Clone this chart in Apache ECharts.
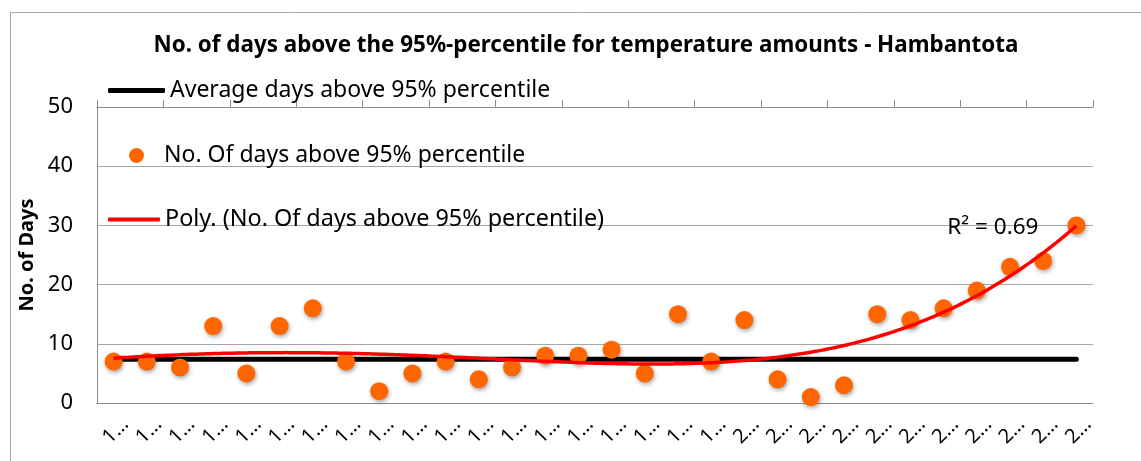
<!DOCTYPE html>
<html><head><meta charset="utf-8">
<script src="https://cdn.jsdelivr.net/npm/echarts@6/dist/echarts.min.js"></script>
<style>html,body{margin:0;padding:0;background:#fff}#chart{width:1141px;height:461px}</style>
</head><body><div id="chart"></div>
<script>
const years = ['1981','1982','1983','1984','1985','1986','1987','1988','1989','1990',
  '1991','1992','1993','1994','1995','1996','1997','1998','1999','2000',
  '2001','2002','2003','2004','2005','2006','2007','2008','2009','2010'];
const daysAbove95 = [7,7,6,13,5,13,16,7,2,5,7,4,6,8,8,9,5,15,7,14,4,1,3,15,14,16,19,23,24,30];
const averageDays = 7.4;
const yTicks = {min: 0, max: 50, interval: 10};
const titleText = 'No. of days above the 95%-percentile for temperature amounts - Hambantota';
const avgName = 'Average days above 95% percentile';
const pointsName = 'No. Of days above 95% percentile';
const trendName = 'Poly. (No. Of days above 95% percentile)';
const r2Text = 'R\u00B2 = 0.69';
const trendOrder = 4;

// least-squares polynomial trendline fitted to the data (as the spreadsheet trendline)
function polyFit(xs, ys, order) {
  const c = 15.5, s = 14.5, n = order + 1;
  const M = Array.from({length: n}, () => Array(n + 1).fill(0));
  xs.forEach((x, k) => {
    const t = (x - c) / s, p = [1];
    for (let i = 1; i < n; i++) p.push(p[i - 1] * t);
    for (let i = 0; i < n; i++) {
      for (let j = 0; j < n; j++) M[i][j] += p[i] * p[j];
      M[i][n] += p[i] * ys[k];
    }
  });
  for (let i = 0; i < n; i++) {
    let piv = i;
    for (let r = i + 1; r < n; r++) if (Math.abs(M[r][i]) > Math.abs(M[piv][i])) piv = r;
    [M[i], M[piv]] = [M[piv], M[i]];
    for (let r = 0; r < n; r++) if (r !== i) {
      const f = M[r][i] / M[i][i];
      for (let cc = i; cc <= n; cc++) M[r][cc] -= f * M[i][cc];
    }
  }
  const coef = M.map((row, i) => row[n] / row[i]);
  return x => { const t = (x - c) / s; let v = 0, p = 1; for (const a of coef) { v += a * p; p *= t; } return v; };
}

const xIdx = years.map((_, i) => i + 1);
const trendFn = polyFit(xIdx, daysAbove95, trendOrder);
const trendData = [];
for (let k = 0; k <= 290; k++) { const x = 1 + k / 10; trendData.push([x, trendFn(x)]); }

const FONT = 'Noto Sans';
const chart = echarts.init(document.getElementById('chart'), null, {renderer: 'canvas'});
chart.setOption({
  animation: false,
  backgroundColor: '#fff',
  textStyle: {fontFamily: FONT, color: '#000'},
  title: {text: titleText, left: 586, textAlign: 'center', top: 35, padding: 0,
    textStyle: {fontFamily: FONT, fontSize: 22.4, fontWeight: 'bold', color: '#000'}},
  graphic: [
    {type: 'rect', shape: {x: 10.5, y: 12.5, width: 1300, height: 600}, silent: true,
      style: {fill: 'none', stroke: '#a6a6a6', lineWidth: 1}, z: -10}
  ],
  legend: [
    {data: [avgName], left: 108, top: 79, padding: 0, icon: 'roundRect', itemWidth: 57, itemHeight: 5,
      textStyle: {fontFamily: FONT, fontSize: 23, color: '#000'}},
    {data: [pointsName], left: 129, top: 144, padding: 0, icon: 'circle', itemWidth: 15, itemHeight: 15,
      textStyle: {fontFamily: FONT, fontSize: 23, color: '#000', padding: [0, 0, 0, 15]}},
    {data: [trendName], left: 108, top: 208, padding: 0, icon: 'roundRect', itemWidth: 52, itemHeight: 4,
      textStyle: {fontFamily: FONT, fontSize: 23.4, color: '#000'}}
  ],
  grid: {left: 97, right: 48, top: 107, bottom: 58, containLabel: false, outerBoundsMode: 'none'},
  xAxis: [
    {type: 'category', data: years, position: 'bottom', boundaryGap: true,
      axisLine: {lineStyle: {color: '#8c8c8c', width: 1}}, axisTick: {show: false},
      axisLabel: {interval: 0, rotate: 45, align: 'center', margin: 30, fontSize: 20, color: '#000',
        fontFamily: FONT, padding: [0, 0, 0, 6], formatter: v => v.charAt(0) + '\u2026'},
      splitLine: {show: false}},
    {type: 'category', data: years, position: 'top', boundaryGap: true,
      axisLine: {show: true, lineStyle: {color: '#8c8c8c', width: 1}},
      axisTick: {show: true, length: 7, lineStyle: {color: '#8c8c8c'}},
      axisLabel: {show: false}, splitLine: {show: false}},
    {type: 'value', min: 0.5, max: 30.5, show: false}
  ],
  yAxis: {type: 'value', min: yTicks.min, max: yTicks.max, interval: yTicks.interval,
    axisLine: {show: true, lineStyle: {color: '#8c8c8c'}}, axisTick: {show: false},
    splitLine: {lineStyle: {color: '#a6a6a6', width: 1}},
    axisLabel: {fontSize: 22, color: '#000', margin: 24, fontFamily: FONT},
    name: 'No. of Days', nameLocation: 'middle', nameGap: 59,
    nameTextStyle: {fontSize: 20, fontWeight: 'bold', color: '#000', fontFamily: FONT}},
  series: [
    {name: avgName, type: 'line', xAxisIndex: 1, data: years.map(() => averageDays),
      symbol: 'none', color: '#000', lineStyle: {color: '#000', width: 5, cap: 'round'}, z: 2},
    {name: pointsName, type: 'scatter', xAxisIndex: 0, data: daysAbove95, symbolSize: 18,
      itemStyle: {color: '#ff6600', opacity: 1, shadowBlur: 4, shadowColor: 'rgba(0,0,0,0.35)', shadowOffsetX: 1, shadowOffsetY: 2}, z: 3},
    {name: trendName, type: 'line', xAxisIndex: 2, data: trendData, symbol: 'none', color: '#ff0000',
      lineStyle: {color: '#ff0000', width: 3.5}, z: 4,
      endLabel: {show: true, formatter: r2Text, align: 'right', offset: [-46, 2], fontSize: 22.5,
        color: '#000', fontFamily: FONT}}
  ]
});
</script></body></html>
